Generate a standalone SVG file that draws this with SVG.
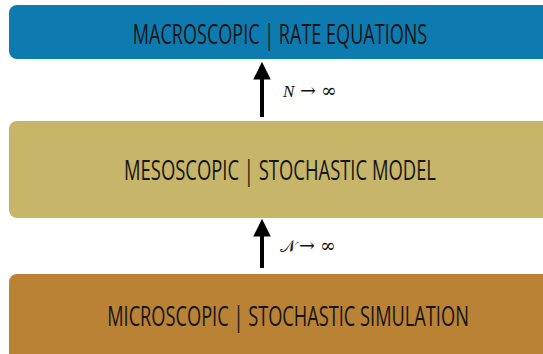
<svg xmlns="http://www.w3.org/2000/svg" width="543" height="354" viewBox="0 0 543 354">
  <style>
    .lbl { font-family: "Open Sans", "Liberation Sans", sans-serif; font-weight: 400; font-size: 28px; fill: #151515; text-anchor: middle; }
    .math { font-family: "Liberation Serif", "DejaVu Serif", serif; font-size: 17px; fill: #111; }
    .sym { font-family: "DejaVu Serif", serif; font-size: 19px; }
    .conn { stroke: #000; stroke-width: 4; fill: none; }
  </style>
  <defs>
    <marker id="head" viewBox="0 0 10 10" refX="2" refY="5" markerWidth="4.4" markerHeight="4.4" orient="auto">
      <path d="M0,0 L10,5 L0,10 Z" fill="#000"/>
    </marker>
  </defs>
  <rect width="543" height="354" fill="#fff"/>

  <!-- layer boxes run off the right edge, so only the left corners are rounded -->
  <g id="macro">
    <path d="M543,5 H17 A8,8 0 0 0 9,13 V51 A8,8 0 0 0 17,59 H543 Z" fill="#0e7bb0"/>
    <text class="lbl" transform="translate(280,44) scale(0.645,1)">MACROSCOPIC | RATE EQUATIONS</text>
  </g>

  <g id="meso">
    <path d="M543,121 H17 A8,8 0 0 0 9,129 V210 A8,8 0 0 0 17,218 H543 Z" fill="#c7b66a"/>
    <text class="lbl" transform="translate(280,180) scale(0.658,1)">MESOSCOPIC | STOCHASTIC MODEL</text>
  </g>

  <g id="micro">
    <path d="M543,274 H17 A8,8 0 0 0 9,282 V354 H543 Z" fill="#b98235"/>
    <text class="lbl" transform="translate(288,326) scale(0.651,1)">MICROSCOPIC | STOCHASTIC SIMULATION</text>
  </g>

  <g id="connectors">
    <line class="conn" x1="262" y1="117" x2="262" y2="76" marker-end="url(#head)"/>
    <text class="math" x="283" y="97"><tspan font-style="italic">N</tspan><tspan class="sym" x="300">→</tspan><tspan class="sym" x="321">∞</tspan></text>
    <line class="conn" x1="262" y1="268" x2="262" y2="233" marker-end="url(#head)"/>
    <text class="math" x="280" y="252">𝒩<tspan class="sym" x="299">→</tspan><tspan class="sym" x="320">∞</tspan></text>
  </g>
</svg>
